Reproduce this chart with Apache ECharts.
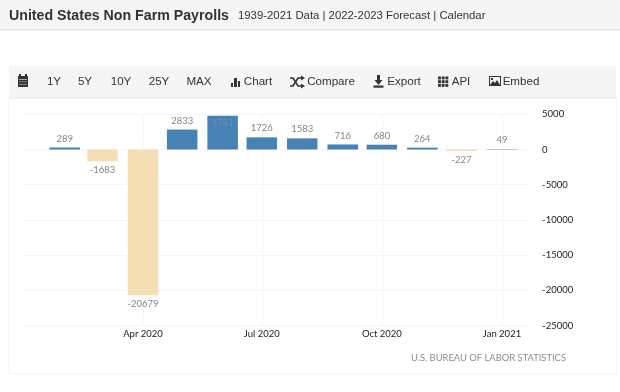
<!DOCTYPE html>
<html>
<head>
<meta charset="utf-8">
<style>html,body{margin:0;padding:0;background:#fff}#c{width:620px;height:392px}</style>
<script src="https://cdn.jsdelivr.net/npm/echarts@6/dist/echarts.min.js"></script>
</head>
<body>
<div id="c"></div>
<script>
const months = ['2020-02-01','2020-03-01','2020-04-01','2020-05-01','2020-06-01','2020-07-01','2020-08-01','2020-09-01','2020-10-01','2020-11-01','2020-12-01','2021-01-01'];
const payrolls = [289,-1683,-20679,2833,4781,1726,1583,716,680,264,-227,49];
const tickDates = ['2020-04-01','2020-07-01','2020-10-01','2021-01-01'];
const tickLabels = ['Apr 2020','Jul 2020','Oct 2020','Jan 2021'];
const toolbarLabels = [['1Y',54],['5Y',85],['10Y',121],['25Y',159],['MAX',199],['Chart',258],['Compare',331],['Export',404],['API',461],['Embed',521]];
const UP = '#4682b4', DOWN = '#f5deb3', LABEL = '#858585';
const UI = '"Liberation Sans", Arial, sans-serif';
const CH = 'Lato, sans-serif';

const ts = s => new Date(s + 'T00:00:00Z').getTime();
const tickTs = tickDates.map(ts);
const dark = '#333';
const r = (x,y,w,h,fill) => ({type:'rect',shape:{x,y,width:w,height:h},style:{fill:fill||dark},silent:true});
const icons = [
  r(18,76,10,11), r(19,74,2,3), r(25,74,2,3), r(19,79,8,.7,'#ddd'), r(19,81.5,8,.7,'#aaa'), r(19,84,8,.7,'#aaa'),
  r(231,83,2,4), r(234,78,3,9), r(238,81,2,6),
  {type:'polyline',shape:{points:[[290,78],[293,78],[298,86],[302,86]]},style:{stroke:dark,lineWidth:1.6,fill:null},silent:true},
  {type:'polyline',shape:{points:[[290,86],[293,86],[298,78],[302,78]]},style:{stroke:dark,lineWidth:1.6,fill:null},silent:true},
  {type:'polygon',shape:{points:[[301,75.5],[305,78],[301,80.5]]},style:{fill:dark},silent:true},
  {type:'polygon',shape:{points:[[301,83.5],[305,86],[301,88.5]]},style:{fill:dark},silent:true},
  r(377,75,3,6), {type:'polygon',shape:{points:[[374.5,80],[382.5,80],[378.5,85]]},style:{fill:dark},silent:true}, r(373.5,85.5,10,2.2),
  ...[0,1,2].flatMap(i => [0,1,2].map(j => r(438+i*3.7, 76.5+j*3.7, 2.9, 2.9))),
  r(489,76,12,10), r(490,77,10,8,'#f5f5f5'), {type:'polygon',shape:{points:[[490,85],[493,81],[495,83],[497,80],[500,85]]},style:{fill:dark},silent:true}, r(491,78,2,2)
];

const chart = echarts.init(document.getElementById('c'), null, {renderer:'canvas'});
chart.setOption({
  animation:false,
  backgroundColor:'#fff',
  graphic:[
    r(0,0,620,29,'#f5f5f5'), r(0,29,620,1.5,'#e6e6e6'),
    {type:'rect',shape:{x:8.5,y:98.5,width:608,height:275},style:{fill:'#fff',stroke:'#f5f5f5',lineWidth:1},silent:true,z:-1},
    r(9,66,607,32,'#f5f5f5'), r(9,97.5,607,1,'#e8e8e8'),
    {type:'text',x:9,y:16,style:{text:'United States Non Farm Payrolls',font:'bold 14.2px '+UI,fill:'#333',textVerticalAlign:'middle'},silent:true},
    {type:'text',x:238,y:16,style:{text:'1939-2021 Data | 2022-2023 Forecast | Calendar',font:'11.35px '+UI,fill:'#333',textVerticalAlign:'middle'},silent:true},
    ...toolbarLabels.map(([t,x]) => ({type:'text',x,y:82,style:{text:t,font:'11.6px '+UI,fill:'#333',textAlign:'center',textVerticalAlign:'middle'},silent:true})),
    ...icons,
    {type:'text',x:411,y:358,style:{text:'U.S. BUREAU OF LABOR STATISTICS',font:'9.4px '+CH,fill:'#8c8c8c',textVerticalAlign:'middle'},silent:true}
  ],
  grid:{left:24.2,width:503.9,top:114.3,height:211.3},
  xAxis:{
    type:'value',
    min:ts('2020-01-01'),
    max:ts('2021-01-21'),
    axisLine:{show:false},
    axisTick:{show:false,customValues:tickTs},
    splitLine:{show:true,lineStyle:{color:'#f5f5f5',width:1}},
    axisLabel:{
      customValues:tickTs,
      margin:3,
      color:'#222',
      fontFamily:CH,
      fontSize:9.5,
      hideOverlap:false,
      formatter:v => { const i = tickTs.indexOf(+v); return i>=0 ? tickLabels[i] : ''; }
    }
  },
  yAxis:{
    type:'value',
    position:'right',
    min:-25000,
    max:5000,
    interval:5000,
    axisLine:{show:false},
    axisTick:{show:false},
    splitLine:{lineStyle:{color:'#f5f5f5',width:1}},
    axisLabel:{color:'#222',fontFamily:CH,fontSize:9.5,margin:14,align:'left',formatter:v=>String(v)}
  },
  series:[{
    type:'bar',
    barWidth:30.5,
    data:months.map((m,i) => {
      const v = payrolls[i];
      const inside = v === Math.max(...payrolls);
      return {
        value:[ts(m),v],
        itemStyle:{color:v>=0?UP:DOWN},
        label:{
          show:true,
          position: inside ? 'insideTop' : (v>=0?'top':'bottom'),
          distance: inside ? 2 : 4,
          color: inside ? '#6f8fae' : LABEL,
          fontFamily:CH,
          fontSize:9.5,
          formatter:String(v)
        }
      };
    })
  }]
});
</script>
</body>
</html>
